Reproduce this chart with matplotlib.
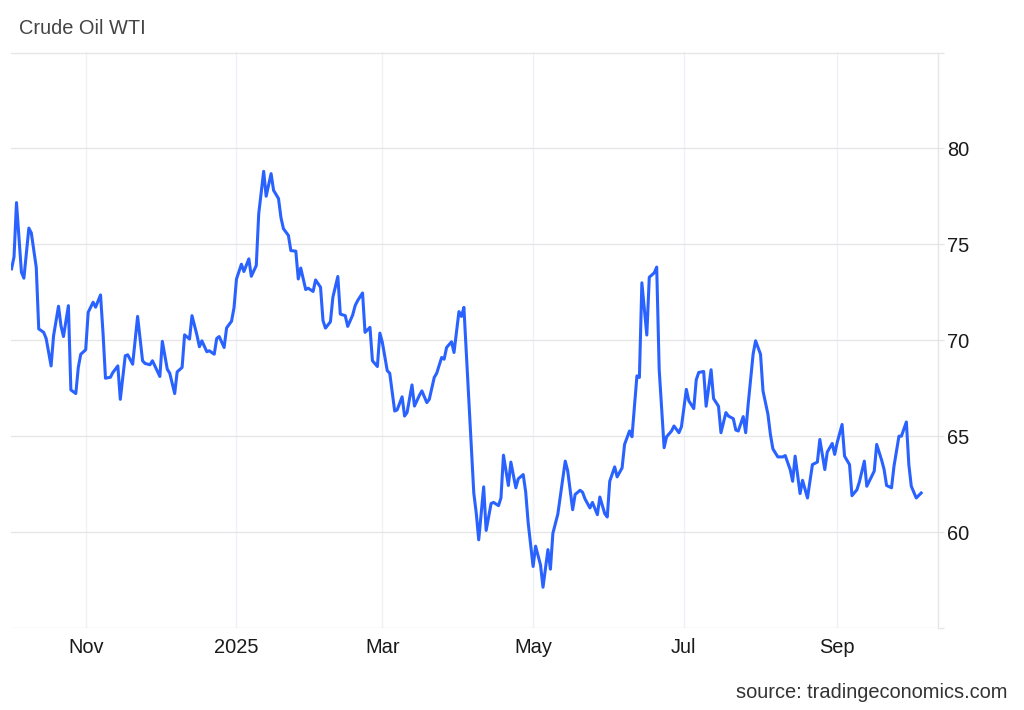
import datetime as dt
import matplotlib
matplotlib.use("Agg")
import matplotlib.pyplot as plt
import matplotlib.dates as mdates
from matplotlib.ticker import FixedLocator, FuncFormatter

# ---- data ----
base_date = dt.datetime(2024, 10, 1)
day_offsets = [
    1, 2, 3, 5, 6, 8, 9, 11, 12, 14, 15, 17, 18, 20, 21, 22, 24, 25, 27, 28,
    29, 31, 32, 34, 35, 37, 38, 39, 41, 42, 44, 45, 47, 48, 50, 51, 52, 54, 55, 57,
    58, 59, 61, 62, 64, 65, 67, 68, 70, 71, 73, 74, 76, 77, 78, 80, 81, 83, 84, 85,
    87, 88, 90, 91, 92, 94, 95, 97, 98, 100, 101, 103, 104, 106, 107, 109, 110, 111, 113, 114,
    116, 117, 118, 120, 121, 123, 124, 126, 127, 128, 130, 131, 133, 134, 136, 137, 139, 140, 141, 143,
    144, 146, 147, 149, 150, 151, 153, 154, 156, 157, 159, 160, 161, 163, 164, 166, 167, 169, 170, 172,
    173, 175, 176, 177, 179, 180, 182, 183, 184, 186, 188, 189, 190, 192, 193, 195, 196, 198, 199, 200,
    202, 203, 205, 206, 208, 209, 210, 212, 213, 215, 216, 218, 219, 220, 222, 223, 225, 226, 228, 229,
    231, 232, 233, 235, 236, 238, 239, 241, 242, 243, 245, 246, 248, 249, 251, 252, 254, 255, 256, 258,
    259, 261, 262, 263, 265, 266, 268, 269, 271, 272, 274, 275, 277, 278, 279, 281, 282, 284, 285, 287,
    288, 290, 291, 293, 294, 295, 297, 298, 299, 301, 302, 304, 305, 307, 308, 309, 311, 313, 314, 316,
    317, 318, 320, 321, 323, 324, 325, 327, 328, 330, 331, 333, 334, 335, 337, 338, 340, 341, 343, 344,
    346, 347, 348, 350, 351, 353, 354, 355, 357, 358, 360, 361, 363, 364, 365, 367, 369,
]
prices = [
    73.73, 74.35, 77.18, 73.55, 73.24, 75.85, 75.60, 73.80, 70.60, 70.42,
    70.10, 68.67, 70.24, 71.78, 70.76, 70.20, 71.81, 67.42, 67.23, 68.59,
    69.28, 69.51, 71.46, 71.99, 71.73, 72.37, 70.40, 68.03, 68.08, 68.33,
    68.67, 66.93, 69.20, 69.25, 68.76, 70.00, 71.25, 68.94, 68.80, 68.73,
    68.94, 68.67, 68.12, 69.95, 68.50, 68.29, 67.23, 68.36, 68.59, 70.29,
    70.07, 71.29, 70.28, 69.67, 69.98, 69.41, 69.46, 69.28, 70.10, 70.20,
    69.63, 70.65, 71.00, 71.70, 73.20, 73.97, 73.59, 74.25, 73.34, 73.90,
    76.60, 78.81, 77.51, 78.69, 77.82, 77.39, 76.39, 75.82, 75.47, 74.68,
    74.65, 73.20, 73.77, 72.65, 72.72, 72.55, 73.15, 72.77, 71.03, 70.64,
    70.97, 72.25, 73.33, 71.37, 71.29, 70.73, 71.32, 71.81, 72.07, 72.47,
    70.42, 70.68, 68.94, 68.64, 70.38, 69.90, 68.42, 68.29, 66.32, 66.38,
    67.06, 66.06, 66.24, 67.68, 66.58, 67.14, 67.37, 66.76, 66.93, 68.07,
    68.29, 69.11, 69.02, 69.63, 69.93, 69.37, 71.50, 71.25, 71.72, 66.90,
    62.05, 61.00, 59.61, 62.37, 60.10, 61.50, 61.56, 61.39, 61.79, 64.02,
    62.44, 63.66, 62.32, 62.79, 63.01, 62.10, 60.50, 58.22, 59.28, 58.30,
    57.14, 59.10, 58.08, 59.95, 60.95, 61.88, 63.71, 63.20, 61.18, 61.97,
    62.19, 62.09, 61.74, 61.27, 61.56, 60.92, 61.84, 60.97, 60.80, 62.66,
    63.41, 62.89, 63.36, 64.58, 65.28, 64.98, 68.15, 68.07, 73.00, 70.28,
    73.29, 73.52, 73.82, 68.50, 64.41, 64.98, 65.28, 65.54, 65.19, 65.50,
    67.45, 66.85, 66.45, 67.95, 68.33, 68.38, 66.57, 68.47, 66.97, 66.57,
    65.19, 66.24, 66.06, 65.92, 65.33, 65.28, 66.03, 65.19, 66.67, 69.28,
    69.98, 69.28, 67.37, 66.15, 65.10, 64.35, 63.93, 63.93, 64.00, 63.27,
    62.66, 63.97, 62.02, 62.71, 61.79, 62.66, 63.53, 63.66, 64.84, 63.27,
    64.18, 64.63, 64.06, 64.67, 65.62, 63.97, 63.53, 61.91, 62.22, 62.63,
    63.71, 62.40, 62.66, 63.19, 64.58, 63.76, 63.27, 62.44, 62.32, 63.45,
    65.01, 65.01, 65.75, 63.53, 62.40, 61.79, 62.05,
]
y_ticks = [55, 60, 65, 70, 75, 80, 85]
y_labels = ["", "60", "65", "70", "75", "80", ""]
x_tick_months = [1, 3, 5, 7, 9, 11]
title = "Crude Oil WTI"
source = "source: tradingeconomics.com"

assert len(day_offsets) == len(prices)
dates = [base_date + dt.timedelta(days=d) for d in day_offsets]

# ---- figure ----
plt.rcParams["font.family"] = ["Liberation Sans", "DejaVu Sans"]
fig = plt.figure(figsize=(10.24, 7.10), dpi=100)
ax = fig.add_axes([11 / 1024, 1 - 628.3 / 710, 927 / 1024, (628.3 - 52.5) / 710])

ax.plot(dates, prices, color="#2962ff", lw=2.2, solid_joinstyle="round", zorder=3)

ax.set_ylim(55, 85)
ax.set_xlim(base_date + dt.timedelta(days=0.78), base_date + dt.timedelta(days=375.8))

ax.yaxis.set_major_locator(FixedLocator(y_ticks))
ax.set_yticklabels(y_labels)
ax.yaxis.tick_right()
ax.tick_params(axis="y", length=4, width=1, color="#e6e6e6", pad=2.5,
               labelsize=14.4, labelcolor="#1a1a1a")

ax.xaxis.set_major_locator(mdates.MonthLocator(bymonth=x_tick_months))
ax.xaxis.set_major_formatter(FuncFormatter(
    lambda v, p: mdates.num2date(v).strftime("%Y") if mdates.num2date(v).month == 1
    else mdates.num2date(v).strftime("%b")))
ax.tick_params(axis="x", length=0, pad=7, labelsize=14.4, labelcolor="#1a1a1a")

ax.grid(axis="y", color="#e6e6e6", lw=1)
ax.grid(axis="x", color="#eef2f7", lw=1)
ax.set_axisbelow(True)

for s in ("top", "left", "bottom"):
    ax.spines[s].set_visible(False)
ax.spines["right"].set_color("#e6e6e6")
ax.spines["right"].set_linewidth(1)

fig.text(19 / 1024, 1 - 28 / 710, title, ha="left", va="center",
         fontsize=14.4, color="#444444")
fig.text(1008 / 1024, 1 - 692 / 710, source, ha="right", va="center",
         fontsize=14.4, color="#333333")

fig.savefig("out.png", dpi=100)
